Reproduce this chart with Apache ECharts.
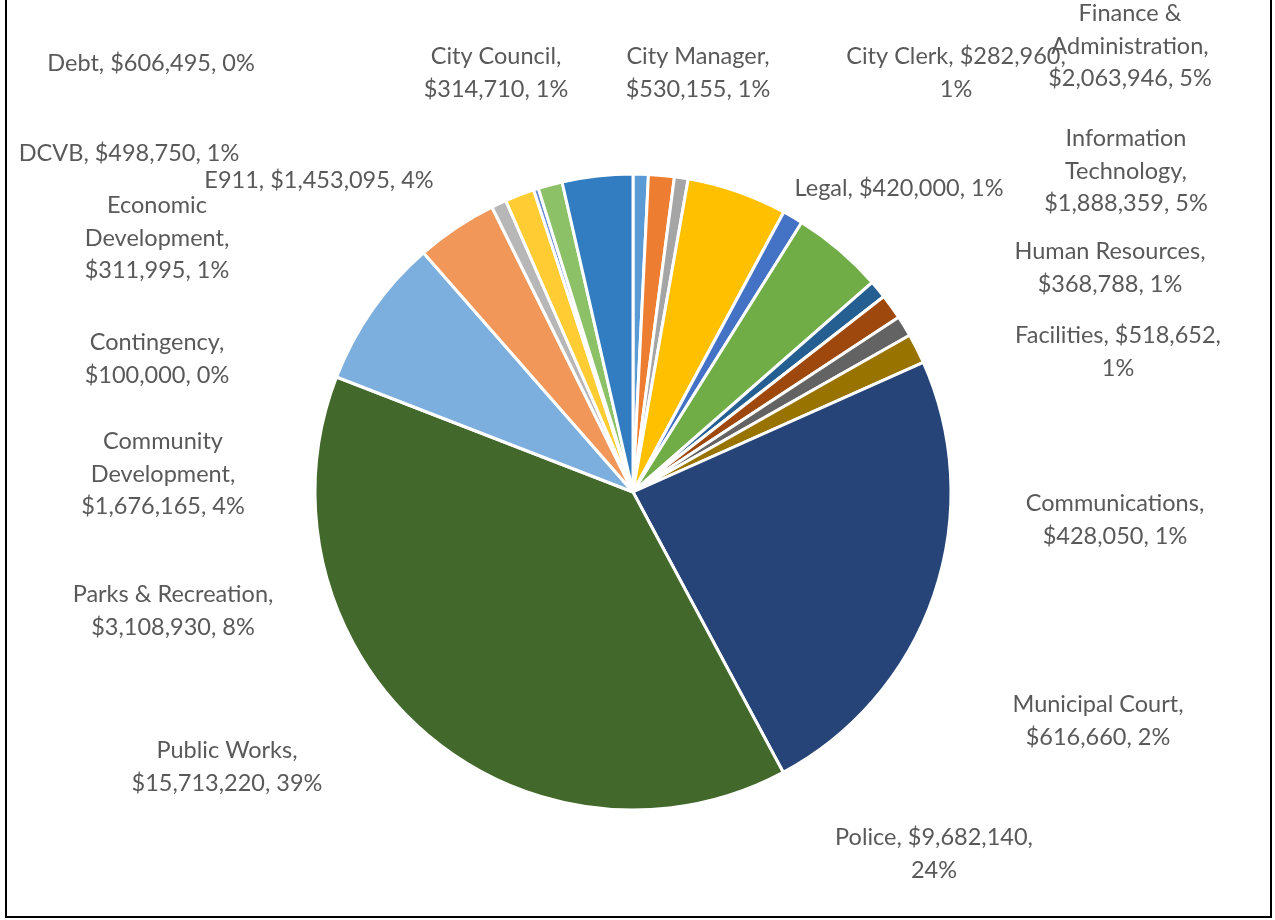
<!DOCTYPE html>
<html>
<head>
<meta charset="utf-8">
<script src="https://cdn.jsdelivr.net/npm/echarts@6/dist/echarts.min.js"></script>
<style>
  html, body { margin: 0; padding: 0; background: #ffffff; overflow: hidden; }
  #chart { position: absolute; left: 0; top: 0; width: 1275px; height: 920px; }
  #frame { position: absolute; left: 5px; top: -20px; width: 1267px; height: 938px;
           box-sizing: border-box; border: 2px solid #000; pointer-events: none; }
</style>
</head>
<body>
<div id="chart"></div>
<div id="frame"></div>
<script>
// ---- data ----
const departments = [
  'City Council', 'City Manager', 'City Clerk', 'Finance & Administration', 'Legal',
  'Information Technology', 'Human Resources', 'Facilities', 'Communications', 'Municipal Court',
  'Police', 'Public Works', 'Parks & Recreation', 'Community Development', 'Economic Development',
  'Debt', 'Contingency', 'DCVB', 'E911'
];
const amounts = [
  314710, 530155, 282960, 2063946, 420000,
  1888359, 368788, 518652, 428050, 616660,
  9682140, 15713220, 3108930, 1676165, 311995,
  606495, 100000, 498750, 1453095
];
const percentLabels = [
  '1%', '1%', '1%', '5%', '1%',
  '5%', '1%', '1%', '1%', '2%',
  '24%', '39%', '8%', '4%', '1%',
  '0%', '0%', '1%', '4%'
];

// ---- styling / layout (not data) ----
const colors = [
  '#5B9BD5', '#ED7D31', '#A5A5A5', '#FFC000', '#4472C4',
  '#70AD47', '#255E91', '#9E480E', '#636363', '#997300',
  '#264478', '#43682B', '#7CAFDD', '#F1975A', '#B7B7B7',
  '#FFCD33', '#698ED0', '#8CC168', '#327DC2'
];
// label centre [x, y] and word indices before which a line break is placed
const labelLayoutCfg = [
  { x: 496, y: 73, br: [2] },        // City Council
  { x: 698, y: 73, br: [2] },        // City Manager
  { x: 956, y: 73, br: [3] },        // City Clerk
  { x: 1130, y: 46, br: [2, 3] },    // Finance & Administration
  { x: 899, y: 188, br: [] },        // Legal
  { x: 1126, y: 171, br: [1, 2] },   // Information Technology
  { x: 1110, y: 268, br: [2] },      // Human Resources
  { x: 1118, y: 352, br: [2] },      // Facilities
  { x: 1115, y: 520, br: [1] },      // Communications
  { x: 1098, y: 721, br: [2] },      // Municipal Court
  { x: 934, y: 854, br: [2] },       // Police
  { x: 227, y: 767, br: [2] },       // Public Works
  { x: 173, y: 611, br: [3] },       // Parks & Recreation
  { x: 163, y: 474, br: [1, 2] },    // Community Development
  { x: 157, y: 238, br: [1, 2] },    // Economic Development
  { x: 151, y: 63, br: [] },         // Debt
  { x: 157, y: 359, br: [1] },       // Contingency
  { x: 129, y: 153, br: [] },        // DCVB
  { x: 319, y: 180, br: [] }         // E911
];

function fmtMoney(v) {
  return '$' + v.toString().replace(/\B(?=(\d{3})+(?!\d))/g, ',');
}
function labelText(i) {
  const full = departments[i] + ', ' + fmtMoney(amounts[i]) + ', ' + percentLabels[i];
  const words = full.split(' ');
  const br = labelLayoutCfg[i].br;
  let out = '';
  words.forEach(function (w, k) {
    if (k > 0) out += br.indexOf(k) >= 0 ? '\n' : ' ';
    out += w;
  });
  return out;
}

const seriesData = departments.map(function (name, i) {
  return { name: name, value: amounts[i], itemStyle: { color: colors[i] } };
});

const chart = echarts.init(document.getElementById('chart'), null, { renderer: 'canvas' });
chart.setOption({
  backgroundColor: '#ffffff',
  animation: false,
  series: [{
    type: 'pie',
    center: [633, 492],
    radius: [0, 318],
    startAngle: 90,
    clockwise: true,
    avoidLabelOverlap: false,
    itemStyle: { borderColor: '#ffffff', borderWidth: 3 },
    label: {
      show: true,
      position: 'outside',
      formatter: function (p) { return labelText(p.dataIndex); },
      fontFamily: 'Lato',
      fontSize: 23.5,
      lineHeight: 32.5,
      color: '#595959',
      align: 'center'
    },
    labelLine: { show: false },
    labelLayout: function (params) {
      const c = labelLayoutCfg[params.dataIndex];
      return { x: c.x, y: c.y, align: 'center', verticalAlign: 'middle', hideOverlap: false };
    },
    emphasis: { disabled: true },
    data: seriesData
  }]
});
</script>
</body>
</html>
